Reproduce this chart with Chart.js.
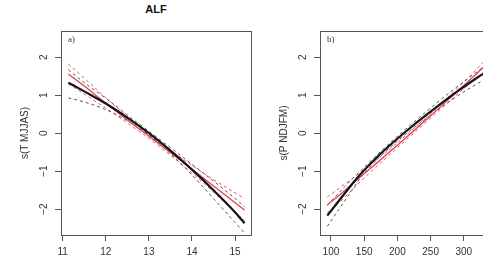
<!DOCTYPE html>
<html>
<head>
<meta charset="utf-8">
<script src="https://cdn.jsdelivr.net/npm/chart.js@4"></script>
<style>
html,body{margin:0;padding:0;background:#fff;overflow:hidden;width:483px;height:269px}
#wrap{position:relative;width:483px;height:269px;overflow:hidden}
canvas{position:absolute;top:0}
#title{position:absolute;left:106px;width:100px;top:3px;text-align:center;font:bold 11px "Liberation Sans",Arial,sans-serif;color:#111}
</style>
</head>
<body>
<div id="wrap">
<div id="title">ALF</div>
<canvas id="tempChart" width="260" height="269" style="left:0"></canvas>
<canvas id="precChart" width="260" height="269" style="left:259px"></canvas>
</div>
<script>
// panel a) summer temperature smooth
const tempX     = [11.13, 11.5, 12, 12.5, 13, 13.5, 14, 14.5, 15, 15.22]
const tempFit   = [1.33, 1.10, 0.78, 0.41, 0.00, -0.46, -0.96, -1.50, -2.08, -2.37]
const tempUp    = [1.67, 1.33, 0.92, 0.48, 0.05, -0.38, -0.82, -1.26, -1.72, -1.93]
const tempLo    = [0.93, 0.82, 0.62, 0.33, -0.05, -0.54, -1.10, -1.72, -2.35, -2.63]
const tempRed   = [1.56, 1.24, 0.79, 0.35, -0.08, -0.51, -0.95, -1.39, -1.83, -2.02]
const tempRedUp = [1.82, 1.45, 0.93, 0.44, -0.02, -0.44, -0.85, -1.22, -1.57, -1.72]
const tempRedLo = [1.30, 1.03, 0.66, 0.27, -0.14, -0.58, -1.05, -1.55, -2.08, -2.30]
const tempTicks = [11, 12, 13, 14, 15]

// panel b) winter precipitation smooth
const precX     = [94.5, 120, 145, 170, 195, 220, 245, 270, 295, 320, 345, 369]
const precFit   = [-2.17, -1.60, -1.07, -0.62, -0.22, 0.15, 0.50, 0.84, 1.16, 1.46, 1.74, 2.00]
const precUp    = [-1.90, -1.42, -0.98, -0.56, -0.16, 0.22, 0.59, 0.95, 1.29, 1.62, 1.94, 2.25]
const precLo    = [-2.45, -1.80, -1.17, -0.68, -0.28, 0.08, 0.41, 0.73, 1.03, 1.30, 1.54, 1.75]
const precRed   = [-1.89, -1.52, -1.14, -0.77, -0.39, -0.01, 0.38, 0.78, 1.18, 1.58, 1.98, 2.36]
const precRedUp = [-1.68, -1.35, -1.02, -0.68, -0.32, 0.05, 0.44, 0.84, 1.26, 1.70, 2.14, 2.56]
const precRedLo = [-2.10, -1.70, -1.26, -0.86, -0.46, -0.07, 0.32, 0.71, 1.10, 1.47, 1.82, 2.16]
const precTicks = [100, 150, 200, 250, 300, 350]

const yTicks = [-2, -1, 0, 1, 2]

const FONT = '"Liberation Sans", Arial, sans-serif'

function pts(xs, ys){
    return xs.map((x, i) => ({x: x, y: ys[i]}))
}

function line(xs, ys, color, width, dash){
    return {
        data: pts(xs, ys),
        borderColor: color,
        borderWidth: width,
        borderDash: dash || [],
        pointRadius: 0,
        fill: false,
        cubicInterpolationMode: 'monotone'
    }
}

// box around plot, rotated y tick labels, panel letter
const rStyle = {
    id: 'rStyle',
    afterDraw(chart, args, opts){
        const {ctx, chartArea: a, scales: {y}} = chart
        ctx.save()
        ctx.strokeStyle = '#555'
        ctx.lineWidth = 1
        ctx.strokeRect(a.left + 0.5, a.top + 0.5, a.right - a.left, a.bottom - a.top)
        ctx.fillStyle = '#333'
        ctx.font = '10px ' + FONT
        ctx.textAlign = 'center'
        ctx.textBaseline = 'middle'
        y.ticks.forEach(t => {
            ctx.save()
            ctx.translate(a.left - 17, y.getPixelForValue(t.value))
            ctx.rotate(-Math.PI / 2)
            ctx.fillText(t.value < 0 ? '\u2212' + (-t.value) : String(t.value), 0, 0)
            ctx.restore()
        })
        ctx.font = '9px "Liberation Serif", serif'
        ctx.textAlign = 'left'
        ctx.fillText(opts.letter, a.left + 7, a.top + 9)
        ctx.restore()
    }
}

function makePanel(id, xs, fit, up, lo, red, redUp, redLo, xMin, xMax, xTicks, yTitle, letter){
    return new Chart(id, {
        type: 'line',
        data: {
            datasets: [
                line(xs, fit, '#151515', 2.2),
                line(xs, red, '#e0404a', 1.3),
                line(xs, up, '#555', 1, [3, 3]),
                line(xs, lo, '#555', 1, [3, 3]),
                line(xs, redUp, '#f0506a', 1, [3, 3]),
                line(xs, redLo, '#f0506a', 1, [3, 3])
            ]
        },
        options: {
            responsive: false,
            animation: false,
            layout: {padding: {top: 31, right: 9, left: 0, bottom: 0}},
            plugins: {legend: {display: false}, tooltip: {enabled: false}, rStyle: {letter: letter}},
            scales: {
                x: {
                    type: 'linear',
                    min: xMin,
                    max: xMax,
                    afterBuildTicks: s => { s.ticks = xTicks.map(v => ({value: v})) },
                    afterFit: s => { s.height = 34 },
                    grid: {drawOnChartArea: false, drawTicks: true, tickLength: 6, color: '#555'},
                    border: {display: false},
                    ticks: {color: '#333', font: {size: 10, family: FONT}, padding: 5, maxRotation: 0, callback: v => String(v)}
                },
                y: {
                    min: -2.68,
                    max: 2.69,
                    afterBuildTicks: s => { s.ticks = yTicks.map(v => ({value: v})) },
                    afterFit: s => { s.width = 61 },
                    grid: {drawOnChartArea: false, drawTicks: true, tickLength: 6, color: '#555'},
                    border: {display: false},
                    ticks: {display: false},
                    title: {display: true, text: yTitle, color: '#333', font: {size: 10, family: FONT}, padding: {top: 19, bottom: 0}}
                }
            }
        },
        plugins: [rStyle]
    })
}

document.addEventListener('DOMContentLoaded', (e) => {
    makePanel('tempChart', tempX, tempFit, tempUp, tempLo, tempRed, tempRedUp, tempRedLo, 10.96, 15.37, tempTicks, 's(T MJJAS)', 'a)')
    makePanel('precChart', precX, precFit, precUp, precLo, precRed, precRedUp, precRedLo, 83.5, 369.5, precTicks, 's(P NDJFM)', 'b)')
})
</script>
</body>
</html>
